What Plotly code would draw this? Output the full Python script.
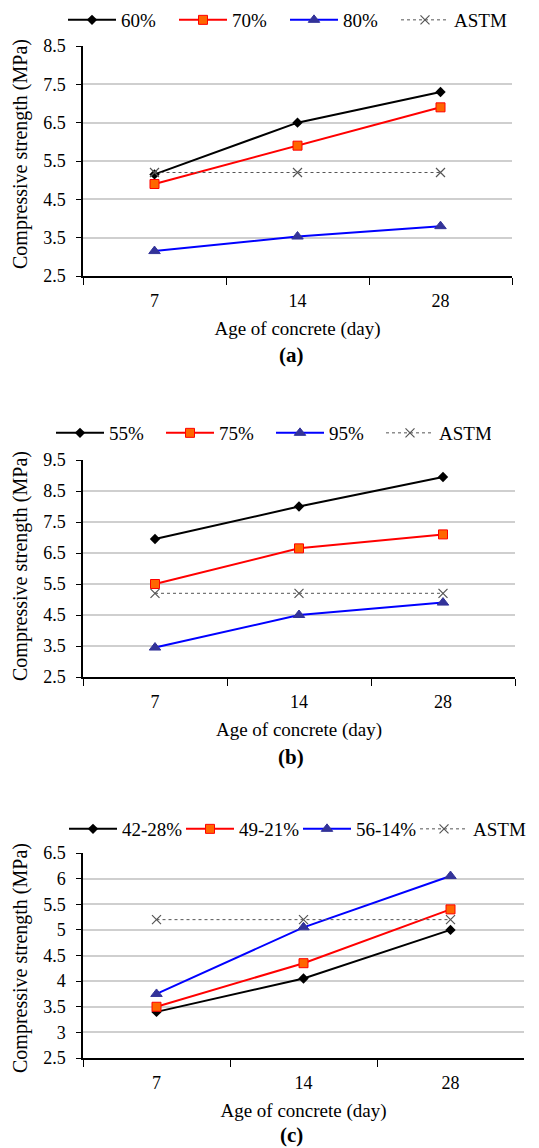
import plotly.graph_objects as go

W, H = 539, 1148

ages = ["7", "14", "28"]

# Panel (a)
a_names = ["60%", "70%", "80%", "ASTM"]
a_60 = [5.15, 6.5, 7.3]
a_70 = [4.9, 5.9, 6.9]
a_80 = [3.15, 3.53, 3.8]
a_astm = [5.2, 5.2, 5.2]

# Panel (b)
b_names = ["55%", "75%", "95%", "ASTM"]
b_55 = [6.95, 8.0, 8.95]
b_75 = [5.5, 6.65, 7.1]
b_95 = [3.45, 4.5, 4.9]
b_astm = [5.2, 5.2, 5.2]

# Panel (c)
c_names = ["42-28%", "49-21%", "56-14%", "ASTM"]
c_42 = [3.4, 4.05, 5.0]
c_49 = [3.5, 4.35, 5.4]
c_56 = [3.75, 5.05, 6.05]
c_astm = [5.2, 5.2, 5.2]

x_title = "Age of concrete (day)"
y_title = "Compressive strength (MPa)"
panel_labels = ["(a)", "(b)", "(c)"]

FONT = "Liberation Serif"

styles = [
    dict(line=dict(color="black", width=2), marker=dict(symbol="diamond", size=8, color="black")),
    dict(line=dict(color="#FF0000", width=2), marker=dict(symbol="square", size=9, color="#FF6600",
                                                          line=dict(color="#FF0000", width=1))),
    dict(line=dict(color="#0000FF", width=2), marker=dict(symbol="triangle-up", size=10, color="#333399",
                                                          line=dict(color="#333399", width=1))),
    dict(line=dict(color="#555555", width=1, dash="dot"), marker=dict(symbol="x-thin", size=9,
                                                                     line=dict(color="#555555", width=1.2))),
]

panels = [
    dict(names=a_names, series=[a_60, a_70, a_80, a_astm], px=(83, 512), py=(46, 276),
         yrange=[2.5, 8.5], tick0=2.5, dtick=1, leg_x=75, leg_y=20, entry=110, lab_y=355, yt=154),
    dict(names=b_names, series=[b_55, b_75, b_95, b_astm], px=(83, 515), py=(460, 677),
         yrange=[2.5, 9.5], tick0=2.5, dtick=1, leg_x=63, leg_y=433, entry=109, lab_y=757, yt=566),
    dict(names=c_names, series=[c_42, c_49, c_56, c_astm], px=(83, 524), py=(853, 1058),
         yrange=[2.5, 6.5], tick0=2.5, dtick=0.5, leg_x=76, leg_y=829, entry=116, lab_y=1135, yt=958),
]

fig = go.Figure()
annotations = []
layout = dict(width=W, height=H, margin=dict(l=0, r=0, t=0, b=0, autoexpand=False),
              paper_bgcolor="white", plot_bgcolor="white",
              font=dict(family=FONT, size=17, color="black"))

for i, p in enumerate(panels):
    k = "" if i == 0 else str(i + 1)
    leg = "legend" + k
    for name, ys, st in zip(p["names"], p["series"], styles):
        fig.add_trace(go.Scatter(x=ages, y=ys, name=name, mode="lines+markers",
                                 xaxis="x" + k, yaxis="y" + k, legend=leg,
                                 line=st["line"], marker=st["marker"]))
    layout["xaxis" + k] = dict(
        domain=[p["px"][0] / W, p["px"][1] / W], anchor="y" + k,
        type="category", range=[-0.5, 2.5], tickson="boundaries",
        ticks="outside", ticklen=7, tickcolor="black", showline=True, linecolor="black", linewidth=1.5,
        showgrid=False, tickfont=dict(size=18), ticklabelstandoff=8,
        title=dict(text=x_title, font=dict(size=19), standoff=11))
    layout["yaxis" + k] = dict(
        domain=[1 - p["py"][1] / H, 1 - p["py"][0] / H], anchor="x" + k,
        range=p["yrange"], tick0=p["tick0"], dtick=p["dtick"],
        ticks="outside", ticklen=5, tickcolor="black", showline=True, linecolor="black", linewidth=1.5,
        showgrid=True, gridcolor="#CFCFCF", gridwidth=2, zeroline=False,
        tickfont=dict(size=18), ticklabelstandoff=7)
    layout[leg] = dict(orientation="h", x=(p["leg_x"] - 12) / W, xanchor="left",
                       y=1 - p["leg_y"] / H, yanchor="middle",
                       entrywidth=p["entry"] - 62, entrywidthmode="pixels",
                       font=dict(size=19), bgcolor="rgba(0,0,0,0)", itemwidth=48,
                       tracegroupgap=0)
    annotations.append(dict(text=y_title, xref="paper", yref="paper",
                            x=20 / W, y=1 - p["yt"] / H,
                            textangle=-90, showarrow=False, font=dict(size=20),
                            xanchor="center", yanchor="middle"))
    annotations.append(dict(text="<b>" + panel_labels[i] + "</b>", xref="paper", yref="paper",
                            x=291 / W, y=1 - p["lab_y"] / H, showarrow=False,
                            font=dict(size=21), xanchor="center", yanchor="middle"))

layout["annotations"] = annotations
layout["showlegend"] = True
fig.update_layout(**layout)
fig.write_html("out.html", config={"displayModeBar": False},
               post_script="document.body.style.margin='0';document.body.style.padding='0';")
